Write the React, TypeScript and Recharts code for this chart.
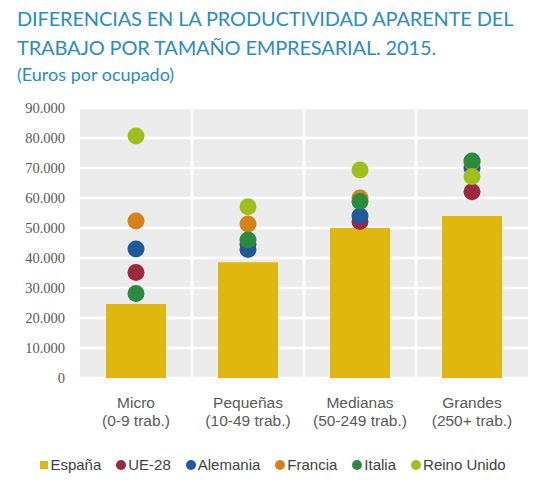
import { Bar, CartesianGrid, ComposedChart, Legend, Scatter, XAxis, YAxis } from "recharts"

const SIZE_NAMES = ["Micro", "Pequeñas", "Medianas", "Grandes"]
const SIZE_RANGES = ["(0-9 trab.)", "(10-49 trab.)", "(50-249 trab.)", "(250+ trab.)"]

const ESPANA = [24700, 38600, 50000, 54000]
const UE28 = [35200, 44500, 52200, 62100]
const ALEMANIA = [43000, 42800, 54000, 70000]
const FRANCIA = [52300, 51300, 60000, 72000]
const ITALIA = [28200, 46000, 58800, 72300]
const REINO_UNIDO = [80700, 57100, 69300, 67200]

const Y_TICKS = [0, 10000, 20000, 30000, 40000, 50000, 60000, 70000, 80000, 90000]

const COLORS = {
    espana: "#dfb70f",
    ue28: "#9b2a40",
    alemania: "#1f5a9a",
    francia: "#d6821c",
    italia: "#2a8a3e",
    reinoUnido: "#9fbf1a",
}

const SERIES = [
    { key: "ue28", name: "UE-28", color: COLORS.ue28 },
    { key: "alemania", name: "Alemania", color: COLORS.alemania },
    { key: "francia", name: "Francia", color: COLORS.francia },
    { key: "italia", name: "Italia", color: COLORS.italia },
    { key: "reinoUnido", name: "Reino Unido", color: COLORS.reinoUnido },
]

const data = SIZE_NAMES.map((name, i) => ({
    name,
    range: SIZE_RANGES[i],
    espana: ESPANA[i],
    ue28: UE28[i],
    alemania: ALEMANIA[i],
    francia: FRANCIA[i],
    italia: ITALIA[i],
    reinoUnido: REINO_UNIDO[i],
}))

const TEXT_FONT = "'Liberation Sans', Arial, sans-serif"
const TITLE_FONT = "Lato, 'Liberation Sans', sans-serif"
const TITLE_COLOR = "#2b8cc0"

const formatThousands = (v: number) => v.toLocaleString("de-DE")

const renderXTick = ({ x, y, index }: any) => (
    <text x={x} y={y} textAnchor="middle" fill="#595959" fontSize={15.5} fontFamily={TEXT_FONT}>
        <tspan x={x} dy={28}>{SIZE_NAMES[index]}</tspan>
        <tspan x={x} dy={18}>{SIZE_RANGES[index]}</tspan>
    </text>
)

const dotShape = (color: string) => (props: any) => (
    <circle cx={props.cx} cy={props.cy} r={8.5} fill={color} />
)

const renderLegend = () => (
    <div style={{ display: "flex", justifyContent: "center", gap: 15, fontFamily: TEXT_FONT, fontSize: 15, color: "#404040" }}>
        <span style={{ display: "flex", alignItems: "center" }}>
            <span style={{ width: 8, height: 8, background: COLORS.espana, marginRight: 2 }} />
            España
        </span>
        {SERIES.map(s => (
            <span key={s.key} style={{ display: "flex", alignItems: "center" }}>
                <span style={{ width: 10, height: 10, borderRadius: 5, background: s.color, marginRight: 2 }} />
                {s.name}
            </span>
        ))}
    </div>
)

export default function App() {
    return (
        <div style={{ position: "relative", width: 546, height: 499, margin: -8, background: "#fff" }}>
            <div style={{ position: "absolute", left: 17, top: 4, whiteSpace: "nowrap", fontFamily: TITLE_FONT, fontSize: 20, letterSpacing: -0.15, lineHeight: "29px", color: TITLE_COLOR }}>
                DIFERENCIAS EN LA PRODUCTIVIDAD APARENTE DEL<br />
                TRABAJO POR TAMAÑO EMPRESARIAL. 2015.
            </div>
            <div style={{ position: "absolute", left: 17, top: 63, whiteSpace: "nowrap", fontFamily: TITLE_FONT, fontSize: 18, color: TITLE_COLOR }}>
                (Euros por ocupado)
            </div>
            <ComposedChart
                width={546}
                height={499}
                data={data}
                margin={{ top: 108, right: 18, bottom: 71, left: 10 }}
                barCategoryGap={26}
            >
                <CartesianGrid
                    fill="#ebebeb"
                    stroke="#ffffff"
                    strokeWidth={2.5}
                    verticalCoordinatesGenerator={({ offset }: any) =>
                        [1, 2, 3].map(i => offset.left + (offset.width * i) / 4)
                    }
                />
                <XAxis dataKey="name" axisLine={false} tickLine={false} tickSize={0} height={50} tick={renderXTick} interval={0} />
                <YAxis
                    domain={[0, 90000]}
                    ticks={Y_TICKS}
                    width={70}
                    axisLine={false}
                    tickLine={false}
                    tickSize={0}
                    tickMargin={15}
                    tickFormatter={formatThousands}
                    tick={{ fill: "#595959", fontSize: 14.5, fontFamily: "'Liberation Serif', serif" }}
                />
                <Bar dataKey="espana" name="España" fill={COLORS.espana} barSize={60} isAnimationActive={false} />
                {SERIES.map(s => (
                    <Scatter
                        key={s.key}
                        dataKey={s.key}
                        name={s.name}
                        fill={s.color}
                        shape={dotShape(s.color)}
                        isAnimationActive={false}
                    />
                ))}
                <Legend
                    verticalAlign="middle"
                    content={renderLegend}
                    wrapperStyle={{ top: 456, left: 0, width: 546 }}
                />
            </ComposedChart>
        </div>
    )
}
